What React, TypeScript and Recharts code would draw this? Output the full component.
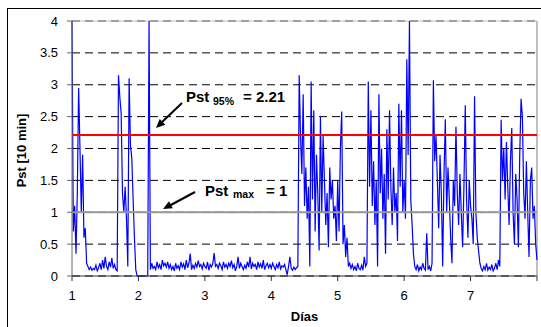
import React from 'react';
import {
  LineChart,
  Line,
  XAxis,
  YAxis,
  CartesianGrid,
  ReferenceLine,
} from 'recharts';

// Pst samples, one every 0.02 day starting at day 1
const DAY_START = 1;
const SAMPLES_PER_DAY = 50;
const pst = [
  4.0, 0.7, 1.1, 0.35, 1.3, 2.95, 2.0, 1.0, 1.9, 0.6, // 1.00
  0.75, 0.2, 0.15, 0.1, 0.14, 0.09, 0.12, 0.1, 0.17, 0.08, // 1.20
  0.13, 0.2, 0.1, 0.25, 0.12, 0.3, 0.15, 0.1, 0.22, 0.14, // 1.40
  0.28, 0.12, 0.18, 0.1, 0.08, 3.15, 2.8, 2.55, 1.3, 1.0, // 1.60
  1.4, 0.9, 0.15, 3.1, 2.05, 1.85, 1.2, 0.6, 0.1, 0, // 1.80
  0, 0, 0, 0, 0, 0, 0, 0, 4.0, 0.1, // 2.00
  0.2, 0.12, 0.15, 0.1, 0.22, 0.13, 0.18, 0.1, 0.25, 0.16, // 2.20
  0.2, 0.14, 0.22, 0.12, 0.18, 0.1, 0.15, 0.08, 0.2, 0.12, // 2.40
  0.16, 0.1, 0.22, 0.14, 0.19, 0.1, 0.25, 0.13, 0.2, 0.35, // 2.60
  0.1, 0.17, 0.12, 0.2, 0.14, 0.24, 0.15, 0.18, 0.11, 0.2, // 2.80
  0.15, 0.12, 0.22, 0.09, 0.18, 0.14, 0.2, 0.36, 0.15, 0.18, // 3.00
  0.12, 0.2, 0.16, 0.1, 0.22, 0.14, 0.18, 0.12, 0.2, 0.15, // 3.20
  0.24, 0.13, 0.18, 0.08, 0.15, 0.3, 0.12, 0.2, 0.15, 0.1, // 3.40
  0.17, 0.12, 0.22, 0.14, 0.3, 0.11, 0.2, 0.15, 0.18, 0.1, // 3.60
  0.22, 0.14, 0.19, 0.12, 0.25, 0.1, 0.16, 0.2, 0.13, 0.18, // 3.80
  0.12, 0.2, 0.15, 0.1, 0.18, 0.13, 0.22, 0.11, 0.16, 0.14, // 4.00
  0.18, 0.1, 0.02, 0.15, 0.3, 0.12, 0.09, 0.14, 0.1, 0.13, // 4.20
  0.15, 3.15, 2.2, 1.6, 2.85, 1.1, 1.7, 0.9, 1.4, 0.15, // 4.40
  3.05, 1.2, 2.6, 0.7, 1.9, 1.3, 0.4, 2.5, 1.0, 2.2, // 4.60
  1.5, 0.8, 1.3, 0.45, 1.7, 1.2, 1.5, 0.9, 1.1, 0.55, // 4.80
  1.5, 0.7, 2.0, 2.58, 0.5, 0.8, 0.3, 0.6, 0.15, 0.2, // 5.00
  0.12, 0.18, 0.1, 0.15, 0.08, 0.2, 0.12, 0.1, 0.17, 0.09, // 5.20
  0.3, 0.15, 0.2, 3.05, 1.4, 2.6, 1.1, 1.8, 0.8, 1.5, // 5.40
  0.15, 2.85, 1.3, 2.0, 0.9, 1.6, 0.35, 2.3, 1.2, 2.6, // 5.60
  1.4, 0.8, 1.7, 1.0, 1.3, 0.55, 2.7, 1.4, 2.6, 1.0, // 5.80
  1.5, 0.9, 3.4, 1.9, 4.0, 1.2, 0.8, 0.35, 0.15, 0.1, // 6.00
  0.18, 0.08, 0.14, 0.1, 0.2, 0.12, 0.09, 0.67, 0.1, 0.15, // 6.20
  0.08, 0.2, 3.07, 1.8, 2.2, 1.5, 0.75, 1.9, 1.3, 0.15, // 6.40
  1.6, 2.46, 1.0, 1.7, 1.2, 0.6, 0.2, 1.5, 1.1, 2.34, // 6.60
  1.3, 0.8, 1.6, 1.0, 0.45, 1.4, 2.68, 1.2, 0.6, 1.5, // 6.80
  1.1, 0.9, 0.5, 2.82, 1.0, 0.6, 0.4, 0.2, 0.12, 0.08, // 7.00
  0.15, 0.1, 0.2, 0.09, 0.14, 0.1, 0.18, 0.08, 0.12, 0.2, // 7.20
  0.1, 0.25, 0.15, 2.45, 1.5, 2.0, 1.2, 2.1, 1.4, 0.8, // 7.40
  1.8, 2.32, 1.0, 0.5, 1.6, 1.2, 0.45, 1.9, 2.78, 2.5, // 7.60
  1.3, 0.9, 1.8, 1.0, 0.3, 1.5, 1.7, 0.9, 1.1, 0.5, // 7.80
  0.25, // 8.00
];

const xTicks = [1, 2, 3, 4, 5, 6, 7, 8];
const yTicks = [0, 0.5, 1, 1.5, 2, 2.5, 3, 3.5, 4];
const pst95 = 2.21;
const pstMax = 1;

const data = pst.map((v, i) => ({ day: DAY_START + i / SAMPLES_PER_DAY, pst: v }));

const FONT = 'Arial, "Liberation Sans", sans-serif';

const YTitle = ({ viewBox }: any) => {
  const cx = viewBox.x + 9;
  const cy = viewBox.y + viewBox.height / 2 + 2;
  return (
    <text
      x={cx}
      y={cy}
      transform={`rotate(-90 ${cx} ${cy})`}
      textAnchor="middle"
      dominantBaseline="central"
      fontFamily={FONT}
      fontSize={13}
      fontWeight="bold"
      fill="#000"
    >
      Pst [10 min]
    </text>
  );
};

export default function App() {
  return (
    <div
      style={{
        position: 'absolute',
        left: 0,
        top: 0,
        width: 541,
        height: 327,
        overflow: 'hidden',
        background: '#fff',
      }}
    >
      {/* outer chart frame */}
      <div
        style={{
          position: 'absolute',
          left: 7,
          top: 8,
          width: 600,
          height: 400,
          border: '1px solid #000',
        }}
      />
      <div style={{ position: 'absolute', left: 0, top: 0 }}>
        <LineChart
          width={541}
          height={327}
          data={data}
          margin={{ top: 21, right: 4, left: 12, bottom: 5 }}
        >
          <CartesianGrid
            vertical={false}
            stroke="#000"
            strokeDasharray="8 5"
          />
          <XAxis
            dataKey="day"
            type="number"
            domain={[1, 8]}
            ticks={xTicks}
            tickFormatter={(v) => (v === 8 ? '' : String(v))}
            tickSize={5}
            tickMargin={10}
            height={46}
            stroke="#333"
            tick={{ fill: '#000', fontSize: 13, fontFamily: FONT }}
            label={{
              value: 'Días',
              position: 'insideBottom',
              offset: 1,
              fill: '#000',
              fontSize: 13,
              fontWeight: 'bold',
              fontFamily: FONT,
            }}
          />
          <YAxis
            type="number"
            domain={[0, 4]}
            ticks={yTicks}
            width={60}
            tickSize={5}
            tickMargin={9}
            stroke="#666"
            tick={{ fill: '#000', fontSize: 13, fontFamily: FONT }}
            label={{ content: <YTitle /> }}
          />
          <ReferenceLine y={4} stroke="#c0c0c0" strokeWidth={1} />
          <ReferenceLine x={8} stroke="#c0c0c0" strokeWidth={2} />
          <Line
            type="linear"
            dataKey="pst"
            stroke="#0000ff"
            strokeWidth={1.2}
            dot={false}
            isAnimationActive={false}
          />
          <ReferenceLine y={pst95} stroke="#ff0000" strokeWidth={2} />
          <ReferenceLine y={pstMax} stroke="#999" strokeWidth={2} />
        </LineChart>
      </div>
      {/* annotations */}
      <svg
        width={541}
        height={327}
        style={{ position: 'absolute', left: 0, top: 0, pointerEvents: 'none' }}
        fontFamily={FONT}
        fontWeight="bold"
        fill="#000"
      >
        <line x1={182} y1={103} x2={161} y2={123} stroke="#000" strokeWidth={2} />
        <polygon points="156,128 165.3,124.7 159.7,118.9" fill="#000" />
        <text x={186} y={102} fontSize={15}>
          Pst
        </text>
        <text x={213} y={105} fontSize={10.5}>
          95%
        </text>
        <text x={243} y={102} fontSize={15}>
          = 2.21
        </text>

        <line x1={195} y1={192} x2={168} y2={206.5} stroke="#000" strokeWidth={2} />
        <polygon points="163,209 172.8,208.3 169,201.3" fill="#000" />
        <text x={205} y={196} fontSize={15}>
          Pst
        </text>
        <text x={233} y={198} fontSize={10.5}>
          max
        </text>
        <text x={266} y={196} fontSize={15}>
          = 1
        </text>
      </svg>
    </div>
  );
}
